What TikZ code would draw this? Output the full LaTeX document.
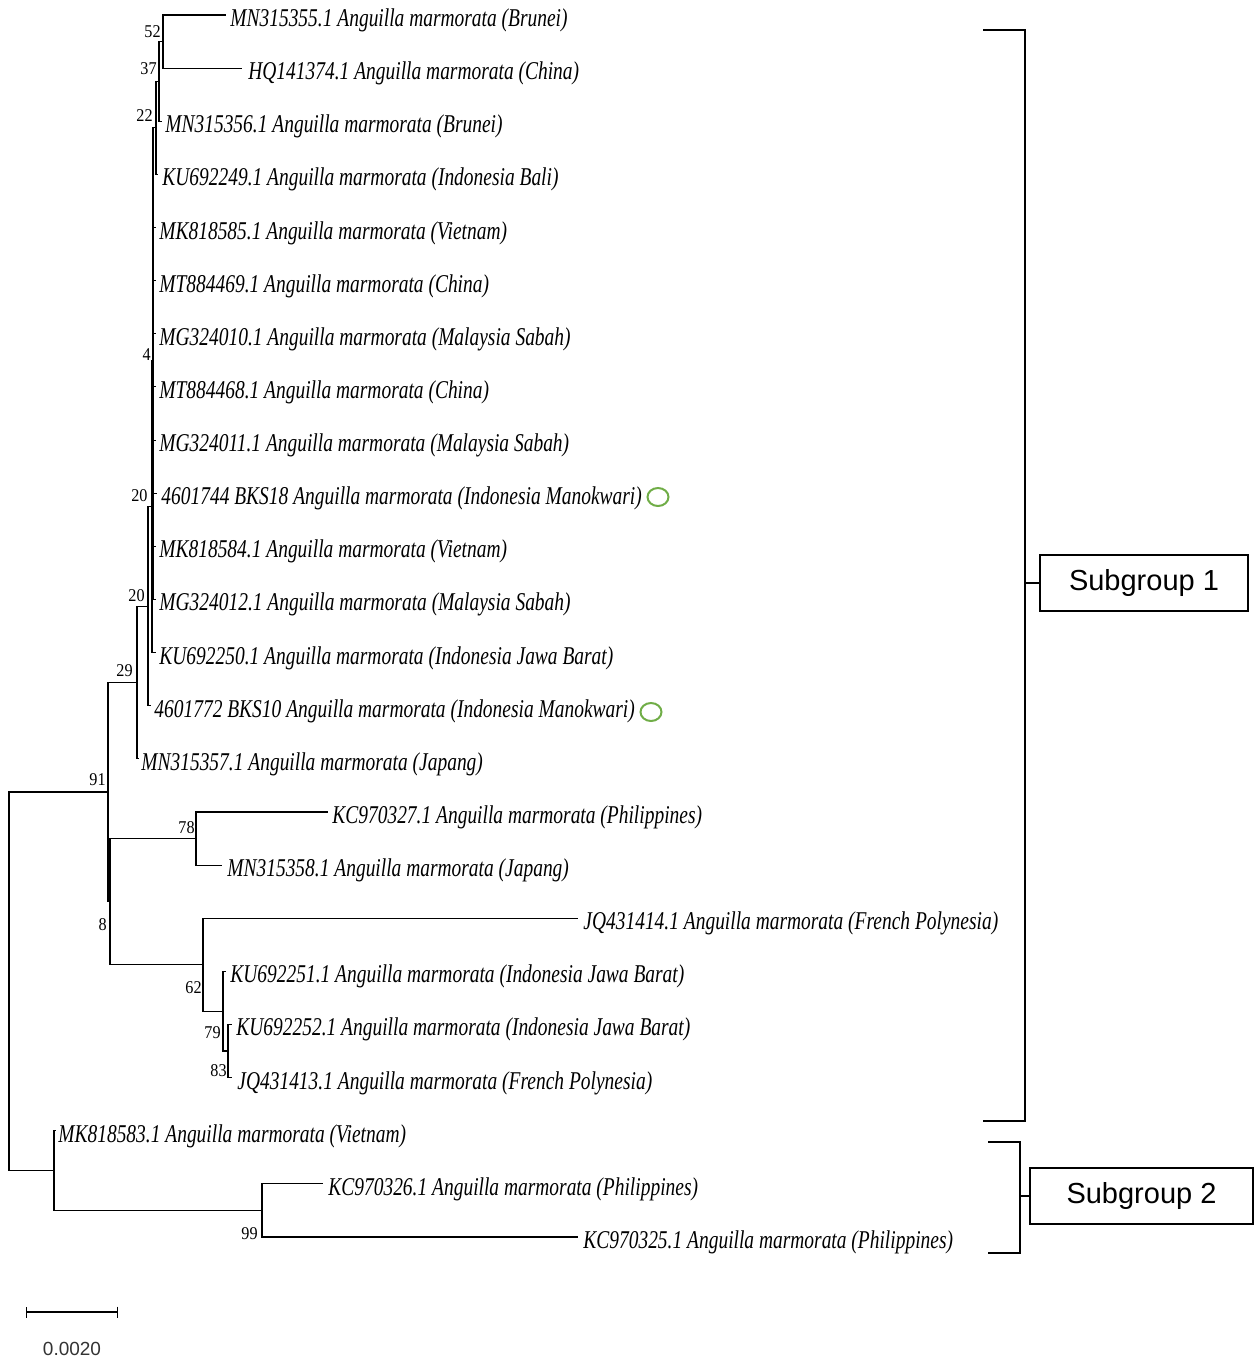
\documentclass[tikz,border=0pt]{standalone}
\usepackage{fontspec}
\setmainfont{Liberation Serif}
\newfontfamily\taxafont[FakeStretch=0.76]{Liberation Serif}
\newfontfamily\bootfont[FakeStretch=0.9]{Liberation Serif}
\newfontfamily\groupfont{Liberation Sans}
\usetikzlibrary{shapes.geometric,arrows.meta,positioning}
\definecolor{ringgreen}{HTML}{70AD47}
\definecolor{scalegray}{HTML}{333333}
\tikzset{
    branch/.style={line width=0.55pt},
    taxon/.style={anchor=base west, inner sep=0pt, font=\taxafont\itshape\fontsize{12.8}{14}\selectfont},
    boot/.style={anchor=east, inner sep=0pt, font=\bootfont\fontsize{9}{10}\selectfont},
    ring/.style={draw=ringgreen, line width=1pt, ellipse, minimum width=10.5pt, minimum height=9pt, inner sep=0pt},
    bracket/.style={line width=1pt},
    groupbox/.style={draw, line width=1pt, inner sep=0pt, minimum height=28pt, font=\groupfont\fontsize{14.5}{16}\selectfont}
}
\begin{document}
\begin{tikzpicture}[x=0.5pt, y=-0.5pt]
    \useasboundingbox (0,0) rectangle (1259,1362);

    % --- Leaves: tip of the branch and taxon name ---
    \foreach \i/\ex/\tx/\lab in {
        0/226/230/{MN315355.1 Anguilla marmorata (Brunei)},
        1/242/248/{HQ141374.1 Anguilla marmorata (China)},
        2/162/165/{MN315356.1 Anguilla marmorata (Brunei)},
        3/158/162/{KU692249.1 Anguilla marmorata (Indonesia Bali)},
        4/156/159/{MK818585.1 Anguilla marmorata (Vietnam)},
        5/156/159/{MT884469.1 Anguilla marmorata (China)},
        6/156/159/{MG324010.1 Anguilla marmorata (Malaysia Sabah)},
        7/156/159/{MT884468.1 Anguilla marmorata (China)},
        8/156/159/{MG324011.1 Anguilla marmorata (Malaysia Sabah)},
        9/157/161/{4601744 BKS18 Anguilla marmorata (Indonesia Manokwari)},
        10/156/159/{MK818584.1 Anguilla marmorata (Vietnam)},
        11/156/159/{MG324012.1 Anguilla marmorata (Malaysia Sabah)},
        12/156/159/{KU692250.1 Anguilla marmorata (Indonesia Jawa Barat)},
        13/151/154/{4601772 BKS10 Anguilla marmorata (Indonesia Manokwari)},
        14/139/141/{MN315357.1 Anguilla marmorata (Japang)},
        15/328/332/{KC970327.1 Anguilla marmorata (Philippines)},
        16/222/227/{MN315358.1 Anguilla marmorata (Japang)},
        17/578/583/{JQ431414.1 Anguilla marmorata (French Polynesia)},
        18/226/230/{KU692251.1 Anguilla marmorata (Indonesia Jawa Barat)},
        19/232/236/{KU692252.1 Anguilla marmorata (Indonesia Jawa Barat)},
        20/232/237/{JQ431413.1 Anguilla marmorata (French Polynesia)},
        21/56/58/{MK818583.1 Anguilla marmorata (Vietnam)},
        22/323/328/{KC970326.1 Anguilla marmorata (Philippines)},
        23/578/583/{KC970325.1 Anguilla marmorata (Philippines)}} {
        \coordinate (e\i) at (\ex, {15+53.13*\i});
        \node[taxon] (t\i) at (\tx, {26.5+53.13*\i}) {\lab};
    }

    % --- Internal nodes ---
    \coordinate (n52) at (163,41.6);
    \coordinate (n37) at (159,81.4);
    \coordinate (n22) at (156,127.9);
    \coordinate (n4) at (153,361);
    \coordinate (n20a) at (152,506.8);
    \coordinate (n20b) at (148,606.3);
    \coordinate (n29) at (137,682.5);
    \coordinate (n78) at (196,838.5);
    \coordinate (n83) at (228,1051);
    \coordinate (n79) at (223,1011.2);
    \coordinate (n62) at (203,964.7);
    \coordinate (n8) at (110,901.6);
    \coordinate (n91) at (108,792);
    \coordinate (n99) at (262,1210.4);
    \coordinate (nS2) at (54,1170.6);
    \coordinate (root) at (9,981.3);

    % Branches (parent to child)
    \foreach \p/\c in {n52/e0, n52/e1, n37/n52, n37/e2, n22/n37, n22/e3,
        n4/n22, n4/e4, n4/e5, n4/e6, n4/e7, n4/e8, n4/e9, n4/e10, n4/e11,
        n20a/n4, n20a/e12, n20b/n20a, n20b/e13, n29/n20b, n29/e14,
        n91/n29, n91/n8, n8/n78, n8/n62, n78/e15, n78/e16,
        n62/e17, n62/n79, n79/e18, n79/n83, n83/e19, n83/e20,
        root/n91, root/nS2, nS2/e21, nS2/n99, n99/e22, n99/e23} {
        \draw[branch] (\p) |- (\c);
    }

    % Bootstrap values
    \foreach \k/\v/\x/\y in {1/52/161/32, 2/37/157/69, 3/22/153/116, 4/4/151/355,
        5/20/148/496, 6/20/145/596, 7/29/133/671, 8/91/106/780, 9/78/195/828,
        10/8/107/925, 11/62/202/988, 12/79/221/1033, 13/83/227/1071, 14/99/258/1234} {
        \node[boot] (b\k) at (\x,\y) {\v};
    }

    % --- Own samples (green rings) ---
    \node[ring] (c9) at (658,497) {};
    \node[ring] (c13) at (651,712) {};

    % --- Subgroup brackets ---
    \node[groupbox, minimum width=104pt] (sg1) at (1144,583) {Subgroup 1};
    \coordinate (g1t) at (983,30);
    \coordinate (g1b) at (983,1121);
    \coordinate (g1x) at (1025,583);
    \draw[bracket] (g1t) -| (g1x) |- (g1b);
    \draw[bracket] (g1x) -- (sg1.west);

    \node[groupbox, minimum width=111.5pt] (sg2) at (1141.5,1196) {Subgroup 2};
    \coordinate (g2t) at (988,1142);
    \coordinate (g2b) at (988,1253);
    \coordinate (g2x) at (1020,1196);
    \draw[bracket] (g2t) -| (g2x) |- (g2b);
    \draw[bracket] (g2x) -- (sg2.west);

    % Scale bar
    \coordinate (sb0) at (26,1312);
    \coordinate (sb1) at (118,1312);
    \draw[line width=0.6pt, {Bar[width=5.5pt]}-{Bar[width=5.5pt]}] (sb0) -- (sb1);
    \node[text=scalegray, font=\groupfont\fontsize{9.5}{11}\selectfont] (sblab) at (72,1349) {0.0020};
\end{tikzpicture}
\end{document}
